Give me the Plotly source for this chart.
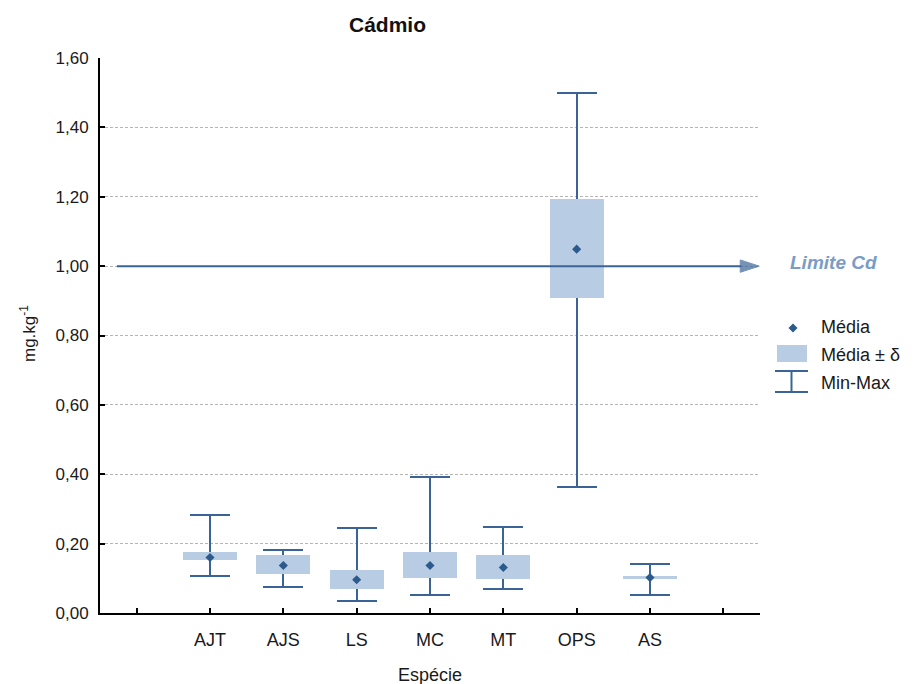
import plotly.graph_objects as go

# Cadmium concentration per species (mg/kg)
categories = ["AJT", "AJS", "LS", "MC", "MT", "OPS", "AS"]
media = [0.160, 0.137, 0.096, 0.137, 0.131, 1.049, 0.102]
media_menos_delta = [0.152, 0.113, 0.070, 0.102, 0.098, 0.909, 0.097]
media_mais_delta = [0.177, 0.167, 0.125, 0.176, 0.168, 1.194, 0.108]
minimo = [0.106, 0.074, 0.036, 0.052, 0.068, 0.362, 0.051]
maximo = [0.283, 0.182, 0.245, 0.392, 0.248, 1.500, 0.142]

limite_cd = 1.0
y_ticks = [0.0, 0.2, 0.4, 0.6, 0.8, 1.0, 1.2, 1.4, 1.6]

FONT = "Liberation Sans, Arial, sans-serif"
DARK = "#3a6497"
FILL = "#b8cce4"
MARK = "#2c5a8d"
TEXT = "#1a1a1a"

W, H = 917, 684
L, R, T, B = 100, 157, 58, 71
PW, PH = W - L - R, H - T - B

def px(xp):
    return (xp - L) / PW

def py(yp):
    return (H - B - yp) / PH

pos = list(range(1, len(categories) + 1))
x_lo, x_hi = -0.5, len(categories) + 1.5

fig = go.Figure()

# Min-Max whiskers (drawn first so the boxes cover them)
fig.add_trace(go.Bar(
    x=pos, y=media,
    marker=dict(color="rgba(0,0,0,0)", line=dict(width=0)),
    width=0.74,
    error_y=dict(type="data", symmetric=False,
                 array=[mx - m for mx, m in zip(maximo, media)],
                 arrayminus=[m - mn for m, mn in zip(media, minimo)],
                 color=DARK, thickness=2, width=20),
    showlegend=False, hoverinfo="skip",
))

# Média ± δ boxes
fig.add_trace(go.Bar(
    x=pos,
    y=[hi - lo for hi, lo in zip(media_mais_delta, media_menos_delta)],
    base=media_menos_delta,
    width=0.74,
    marker=dict(color=FILL, line=dict(width=0)),
    showlegend=False,
))

# Média markers
fig.add_trace(go.Scatter(
    x=pos, y=media, mode="markers",
    marker=dict(symbol="diamond", size=7, color=MARK),
    showlegend=False,
))

# Cd limit line ending in an arrow head
fig.add_trace(go.Scatter(
    x=[x_lo + 0.23, x_hi - 0.01], y=[limite_cd, limite_cd],
    mode="lines+markers",
    line=dict(color=DARK, width=2),
    marker=dict(symbol="arrow", size=[0, 20], angleref="previous", color=DARK,
                line=dict(color=DARK, width=1)),
    showlegend=False, hoverinfo="skip", cliponaxis=False,
))

shapes = []
annotations = []

# Legend glyphs
cx, cy, r = 793, 328, 4.5
shapes.append(dict(
    type="path", xref="paper", yref="paper",
    path=f"M {px(cx - r)} {py(cy)} L {px(cx)} {py(cy - r)} L {px(cx + r)} {py(cy)} L {px(cx)} {py(cy + r)} Z",
    fillcolor=MARK, line=dict(width=0),
))
shapes.append(dict(type="rect", xref="paper", yref="paper",
                   x0=px(777), x1=px(807), y0=py(362), y1=py(345),
                   fillcolor=FILL, line=dict(width=0)))
for yy in (371, 392):
    shapes.append(dict(type="line", xref="paper", yref="paper",
                       x0=px(775), x1=px(808), y0=py(yy), y1=py(yy),
                       line=dict(color=DARK, width=2)))
shapes.append(dict(type="line", xref="paper", yref="paper",
                   x0=px(791.5), x1=px(791.5), y0=py(371), y1=py(392),
                   line=dict(color=DARK, width=2)))

for label, yy in (("Média", 327), ("Média ± δ", 355), ("Min-Max", 383)):
    annotations.append(dict(text=label, xref="paper", yref="paper",
                            x=px(819), y=py(yy), xanchor="left", yanchor="middle",
                            showarrow=False, font=dict(family=FONT, size=18, color=TEXT)))

annotations.append(dict(
    text="<b><i>Limite Cd</i></b>", xref="paper", yref="y",
    x=px(788), y=limite_cd + 0.01, xanchor="left", yanchor="middle",
    showarrow=False, font=dict(family=FONT, size=19, color="#7b9cc7"),
))

# Title and axis titles
annotations.append(dict(text="<b>Cádmio</b>", xref="paper", yref="paper",
                        x=px(387), y=py(25), xanchor="center", yanchor="middle",
                        showarrow=False, font=dict(family=FONT, size=21, color="#111")))
annotations.append(dict(text="mg.kg<sup>-1</sup>", xref="paper", yref="paper",
                        x=px(28), y=py(334), xanchor="center", yanchor="middle",
                        textangle=-90, showarrow=False,
                        font=dict(family=FONT, size=17, color=TEXT)))
annotations.append(dict(text="Espécie", xref="paper", yref="paper",
                        x=px(430), y=py(675), xanchor="center", yanchor="middle",
                        showarrow=False, font=dict(family=FONT, size=18, color=TEXT)))

fig.update_layout(
    width=W, height=H,
    margin=dict(l=L, r=R, t=T, b=B, autoexpand=False),
    paper_bgcolor="white", plot_bgcolor="white",
    barmode="overlay", bargap=0,
    separators=",.",
    shapes=shapes, annotations=annotations,
    showlegend=False,
)
fig.update_xaxes(
    range=[x_lo, x_hi],
    tickvals=pos, ticktext=categories,
    showline=True, linecolor="black", linewidth=2,
    ticks="inside", ticklen=5, tickwidth=1.5, tickcolor="black",
    minor=dict(ticks="inside", tick0=0, dtick=1, ticklen=5, tickwidth=1.5,
               tickcolor="black", showgrid=False),
    showgrid=False, zeroline=False,
    tickfont=dict(family=FONT, size=18, color=TEXT),
    ticklabelstandoff=9,
)
fig.update_yaxes(
    range=[0, 1.6],
    tickvals=y_ticks, tickformat=".2f",
    showline=True, linecolor="black", linewidth=2,
    ticks="inside", ticklen=5, tickwidth=1.5, tickcolor="black",
    showgrid=True, gridcolor="#b5b5b5", gridwidth=1, griddash="3px,2px",
    zeroline=False,
    tickfont=dict(family=FONT, size=17, color=TEXT),
    ticklabelstandoff=6,
)

fig.write_html("out.html")
